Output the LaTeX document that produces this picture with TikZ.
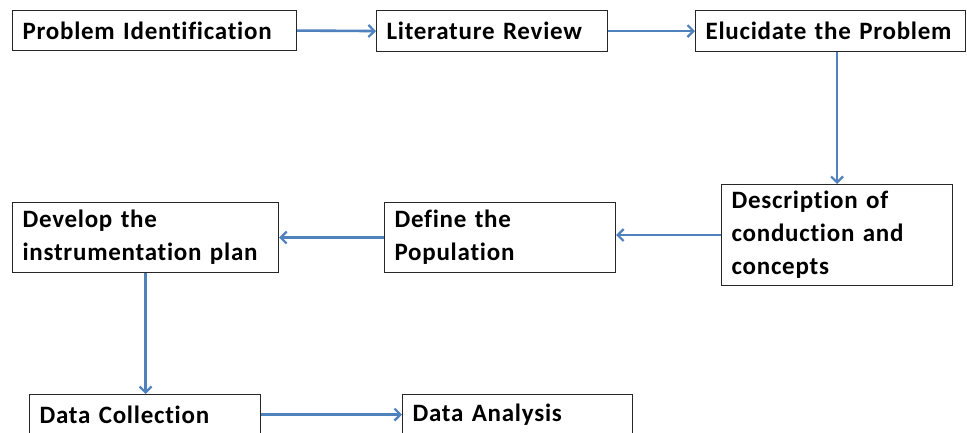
\documentclass[tikz,border=0pt]{standalone}
\usepackage{fontspec}
\setmainfont{Carlito}[Ligatures=NoCommon,LetterSpace=3,WordSpace=0.6]
\usetikzlibrary{arrows.meta,calc}
\definecolor{arrowblue}{HTML}{4F81BD}
\begin{document}
\begin{tikzpicture}[x=1pt,y=-1pt,
  box/.style={draw=black!85, line width=1.1pt, fill=white, anchor=north west,
    inner xsep=10pt, inner ysep=0pt, align=left,
    font=\fontsize{25}{33}\selectfont\bfseries},
  flow/.style={draw=arrowblue, line width=2.6pt,
    -{Straight Barb[length=6pt,width=12pt,line width=2.2pt]}}]
\useasboundingbox[fill=white] (0,0) rectangle (967,432);
\begin{scope}
\clip (0,0) rectangle (967,432);
\node[box, text width=264pt, minimum height=40pt] (pi) at (12,10) {Problem Identification};
\node[box, text width=211pt, minimum height=41pt] (lr) at (376,10) {Literature Review};
\node[box, text width=250pt, minimum height=41pt] (ep) at (695,10) {Elucidate the Problem};
\node[box, text width=211pt, minimum height=101pt] (dc) at (721,184) {Description of\\conduction and\\concepts};
\node[box, text width=211pt, minimum height=70pt] (dp) at (384,202) {Define the\\Population};
\node[box, text width=246pt, minimum height=70pt] (dv) at (12,202) {Develop the\\instrumentation plan};
\node[box, text width=211pt, minimum height=40pt] (col) at (29,394) {Data Collection};
\node[box, text width=210pt, minimum height=40pt] (ana) at (402,394) {Data Analysis};
\end{scope}
\draw[flow] (pi.east) -- (lr.west);
\draw[flow] (lr.east) -- (ep.west);
\draw[flow] (dc.north |- ep.south) -- (dc.north);
\draw[flow] (dc.west) -- (dp.east |- dc.west);
\draw[flow] (dp.west) -- (dv.east);
\draw[flow] (dv.south) -- (dv.south |- col.north);
\draw[flow] (col.east) -- (ana.west);
\end{tikzpicture}
\end{document}
